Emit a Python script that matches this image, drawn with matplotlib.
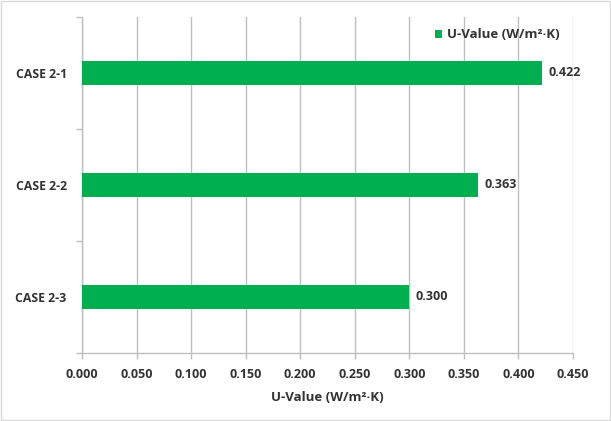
"""U-value comparison bar chart (Excel style)."""

import matplotlib

matplotlib.use("Agg")
import matplotlib.pyplot as plt
from matplotlib.patches import Rectangle

cases = ["CASE 2-1", "CASE 2-2", "CASE 2-3"]
u_values = [0.422, 0.363, 0.300]
x_ticks = [0.000, 0.050, 0.100, 0.150, 0.200, 0.250, 0.300, 0.350, 0.400, 0.450]
unit_label = "U-Value (W/m\u00b2\u00b7K)"

GREEN = "#00B050"
GRID = "#BFBFBF"
TEXT = "#333333"
W, H = 611, 421

plt.rcParams["font.family"] = ["Open Sans", "DejaVu Sans"]

fig = plt.figure(figsize=(W / 100, H / 100), dpi=100)
ax = fig.add_axes([82 / W, 1 - 353 / H, (573 - 82) / W, (353 - 17) / H])

ypos = list(range(len(cases)))
ax.barh(ypos, u_values, height=0.215, color=GREEN, zorder=3,
        label=unit_label)

for y, v in zip(ypos, u_values):
    ax.text(v + 0.0055, y, f"{v:.3f}", va="center", ha="left",
            fontsize=9, fontweight="bold", color=TEXT)

ax.set_xlim(0, 0.45)
ax.set_ylim(len(cases) - 0.5, -0.5)
ax.set_xticks(x_ticks)
ax.set_xticklabels([f"{t:.3f}" for t in x_ticks], fontsize=9,
                   fontweight="bold", color=TEXT)
ax.set_yticks(ypos)
ax.set_yticklabels(cases, fontsize=8.8, fontweight="bold", color=TEXT)
ax.set_yticks([i + 0.5 for i in range(-1, len(cases))], minor=True)
ax.tick_params(axis="y", which="major", length=0, pad=11)
ax.tick_params(axis="y", which="minor", length=4, color=GRID, width=1)
ax.tick_params(axis="x", length=4, color=GRID, width=1, pad=7)
ax.xaxis.grid(True, color=GRID, linewidth=1, zorder=0)
ax.set_xlabel(unit_label, fontsize=9.5, fontweight="bold", color=TEXT,
              labelpad=7)

for side in ["top", "right"]:
    ax.spines[side].set_visible(False)
for side in ["left", "bottom"]:
    ax.spines[side].set_color(GRID)
    ax.spines[side].set_linewidth(1)

leg = fig.legend(loc="center left", bbox_to_anchor=(435 / W, 1 - 35 / H),
                 frameon=False, handlelength=0.55, handleheight=0.55,
                 handletextpad=0.35, borderpad=0, borderaxespad=0,
                 prop={"size": 9.5, "weight": "bold"})
for t in leg.get_texts():
    t.set_color(TEXT)

fig.patches.append(Rectangle((0.002, 0.003), 0.996, 0.994,
                             transform=fig.transFigure, fill=False,
                             edgecolor="#D9D9D9", linewidth=1))

fig.savefig("out.png", dpi=100)
